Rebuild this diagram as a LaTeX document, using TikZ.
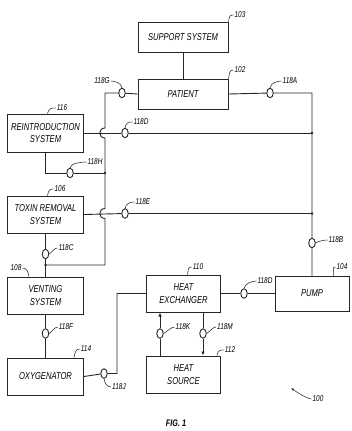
\documentclass[tikz,border=0pt]{standalone}
\usepackage{fontspec}
\newfontfamily\patfont{Liberation Sans}[FakeStretch=0.76]
\usetikzlibrary{arrows.meta,positioning,shapes.geometric}
\tikzset{
  unit/.style={rectangle, draw=black!85, line width=1pt, inner sep=1pt, align=center, font=\patfont\itshape\fontsize{10}{12.5}\selectfont},
  valve/.style={ellipse, draw=black!85, line width=0.9pt, fill=white, minimum width=6.5pt, minimum height=9.5pt, inner sep=0pt},
  reftag/.style={font=\patfont\itshape\fontsize{8.5}{9}\selectfont, inner sep=1pt},
  pipe/.style={draw=black!85, line width=0.9pt},
  lead/.style={draw=black!85, line width=0.55pt},
  arrow/.style={-{Latex[length=4pt,width=3.5pt]}, pipe},
  jdot/.style={circle, fill=black!85, inner sep=0pt, minimum size=2.6pt}
}
\begin{document}
\begin{tikzpicture}[x=1pt, y=-1pt]
  \useasboundingbox (0,0) rectangle (352,431);
  \node[unit, minimum width=90pt, minimum height=30pt] (support) at (183,37) {SUPPORT SYSTEM};
  \node[unit, minimum width=90pt, minimum height=30pt, below=26pt of support] (patient) {PATIENT};
  \node[unit, minimum width=76pt, minimum height=38pt] (reintro) at (45.5,133) {REINTRODUCTION\\SYSTEM};
  \node[unit, minimum width=76pt, minimum height=37pt, below=43pt of reintro] (toxin) {TOXIN REMOVAL\\SYSTEM};
  \node[unit, minimum width=76pt, minimum height=37pt, below=43pt of toxin] (venting) {VENTING\\SYSTEM};
  \node[unit, minimum width=76pt, minimum height=37pt, below=43pt of venting] (oxy) {OXYGENATOR};
  \node[unit, minimum width=74pt, minimum height=37pt] (hx) at (183.5,293.5) {HEAT\\EXCHANGER};
  \node[unit, minimum width=74pt, minimum height=37pt, below=43pt of hx] (hs) {HEAT\\SOURCE};
  \node[unit, minimum width=74pt, minimum height=35pt] (pump) at (312,293.5) {PUMP};

  \node[valve] (vG) at (122,93) {};
  \node[valve] (vA) at (270,93) {};
  \node[valve] (vD1) at (125,133) {};
  \node[valve] (vH) at (70,173) {};
  \node[valve] (vE) at (125,213.5) {};
  \node[valve] (vC) at (45.5,254) {};
  \node[valve] (vB) at (312,243) {};
  \node[valve] (vF) at (45.5,333.5) {};
  \node[valve] (vJ) at (104,373.5) {};
  \node[valve] (vDp) at (244,293.5) {};
  \node[valve] (vK) at (160,333.5) {};
  \node[valve] (vM) at (203,333.5) {};

  \coordinate (lt) at (105,93);
  \coordinate (lb) at (105,265);
  \coordinate (rt) at (312,93);
  \coordinate (r1) at (312,133);
  \coordinate (r2) at (312,213.5);
  \coordinate (l1) at (105,173);
  \coordinate (hc) at (45.5,173);
  \coordinate (jv) at (45.5,265);
  \coordinate (oj) at (117,373.5);

  \draw[pipe] (support) -- (patient);
  \draw[pipe] (patient.west) -- (vG) -- (lt) -- (105,128)
    .. controls (98,128) and (98,138) .. (105,138) -- (105,208.5)
    .. controls (98,208.5) and (98,218.5) .. (105,218.5) -- (lb) -- (jv);
  \draw[pipe] (patient.east) -- (vA) -- (rt) -- (vB) -- (pump.north);
  \draw[pipe] (reintro.east) -- (vD1) -- (r1);
  \draw[pipe] (toxin.east) -- (vE) -- (r2);
  \draw[pipe] (reintro.south) -- (hc) -- (vH) -- (l1);
  \draw[pipe] (toxin.south) -- (vC) -- (jv) -- (venting.north);
  \draw[pipe] (venting.south) -- (vF) -- (oxy.north);
  \draw[pipe] (oxy.east) -- (vJ) -- (oj) |- (hx.west);
  \draw[pipe] (hx.east) -- (vDp) -- (pump.west);
  \draw[arrow] (hs.north -| vK) -- (vK) -- (hx.south -| vK);
  \draw[arrow] (hx.south -| vM) -- (vM) -- (hs.north -| vM);
  \foreach \j in {l1,r1,r2,jv} \node[jdot] at (\j) {};

  \node[reftag] (t103) at (240,15) {103};
  \node[reftag] (t102) at (240,70) {102};
  \node[reftag] (t116) at (62,108) {116};
  \node[reftag] (t106) at (60,189) {106};
  \node[reftag] (t108) at (16,268) {108};
  \node[reftag] (t114) at (86,349) {114};
  \node[reftag] (t110) at (198,267) {110};
  \node[reftag] (t112) at (230,350) {112};
  \node[reftag] (t104) at (342,267) {104};
  \draw[lead] (support.north east) .. controls +(1,-5) and +(-4,0) .. (t103.west);
  \draw[lead] (patient.north east) .. controls +(1,-5) and +(-4,0) .. (t102.west);
  \draw[lead] ([xshift=2pt]reintro.north) .. controls +(1,-5) and +(-4,0) .. (t116.west);
  \draw[lead] ([xshift=2pt]toxin.north) .. controls +(1,-5) and +(-4,0) .. (t106.west);
  \draw[lead] (t108.east) .. controls +(4,0) and +(-1,-5) .. ([xshift=22pt]venting.north west);
  \draw[lead] ([xshift=-10pt]oxy.north east) .. controls +(1,-5) and +(-4,0) .. (t114.west);
  \draw[lead] ([xshift=4pt]hx.north) .. controls +(1,-5) and +(-4,0) .. (t110.west);
  \draw[lead] ([xshift=-4pt]hs.north east) .. controls +(1,-5) and +(-4,0) .. (t112.west);
  \draw[lead] ([xshift=-16pt]pump.north east) .. controls +(1,-5) and +(-4,0) .. (t104.west);

  \node[reftag] (tG) at (102,81) {118G};
  \node[reftag] (tA) at (290,81) {118A};
  \node[reftag] (tD1) at (141,122) {118D};
  \node[reftag] (tH) at (95,162) {118H};
  \node[reftag] (tE) at (143,202) {118E};
  \node[reftag] (tC) at (66,248) {118C};
  \node[reftag] (tB) at (336,240) {118B};
  \node[reftag] (tF) at (66,327) {118F};
  \node[reftag] (tJ) at (119,387) {118J};
  \node[reftag] (tDp) at (265,281) {118D};
  \node[reftag] (tK) at (183,327) {118K};
  \node[reftag] (tM) at (225,327) {118M};
  \draw[lead] (tG.east) .. controls +(4,0) and +(-1,-5) .. (vG.north);
  \draw[lead] (vA.north) .. controls +(1,-5) and +(-4,0) .. (tA.west);
  \draw[lead] (vD1.north) .. controls +(1,-5) and +(-4,0) .. (tD1.west);
  \draw[lead] (vH.north) .. controls +(1,-5) and +(-4,0) .. (tH.west);
  \draw[lead] (vE.north) .. controls +(1,-5) and +(-4,0) .. (tE.west);
  \draw[lead] (vC.east) .. controls +(3,-2) and +(-3,0) .. (tC.west);
  \draw[lead] (vB.east) .. controls +(3,-2) and +(-3,0) .. (tB.west);
  \draw[lead] (vF.east) .. controls +(3,-2) and +(-3,0) .. (tF.west);
  \draw[lead] (vK.east) .. controls +(3,-2) and +(-3,0) .. (tK.west);
  \draw[lead] (vM.east) .. controls +(3,-2) and +(-3,0) .. (tM.west);
  \draw[lead] (vDp.north) .. controls +(1,-5) and +(-4,0) .. (tDp.west);
  \draw[lead] (vJ.south) .. controls +(1,5) and +(-4,0) .. (tJ.west);

  \node[reftag] (t100) at (318,399) {100};
  \coordinate (p100) at (291,388);
  \draw[lead, -{Latex[length=3pt,width=2.5pt]}] (t100.west) .. controls +(-4,0) and +(4,3) .. (p100);
  \node[font=\patfont\itshape\bfseries\fontsize{9.5}{10}\selectfont] (fig) at (176,423) {FIG. 1};
\end{tikzpicture}
\end{document}
